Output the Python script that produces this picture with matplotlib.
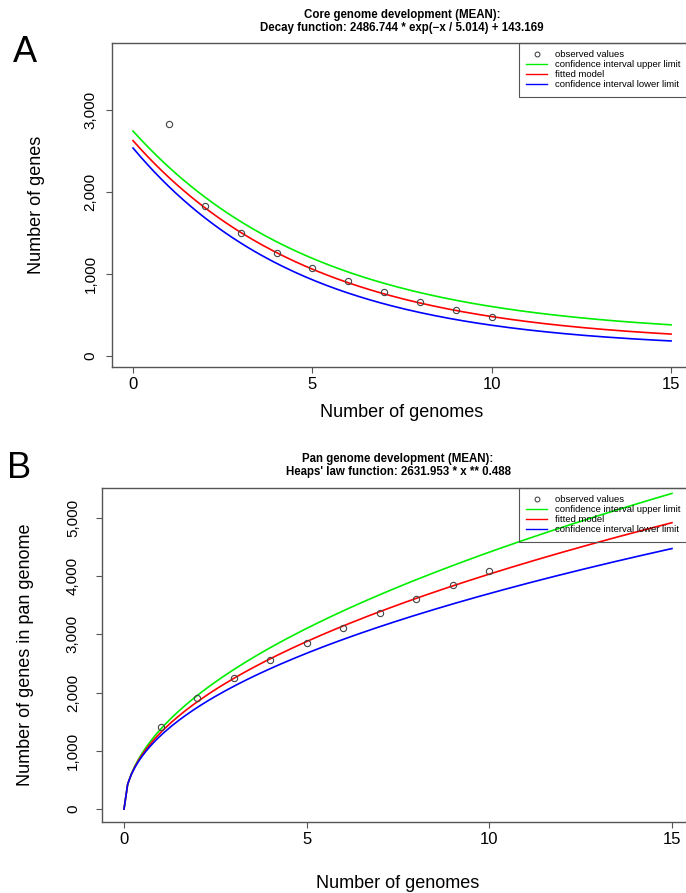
import numpy as np
import matplotlib
matplotlib.use("Agg")
import matplotlib.pyplot as plt
from matplotlib.lines import Line2D
from matplotlib.ticker import FuncFormatter

plt.rcParams['font.family'] = ['Liberation Sans', 'DejaVu Sans']

# ---------------- data ----------------
genomes = [1, 2, 3, 4, 5, 6, 7, 8, 9, 10]
core_observed = [2833, 1831, 1506, 1262, 1071, 912, 778, 665, 565, 480]
pan_observed = [1409, 1913, 2251, 2555, 2847, 3110, 3368, 3614, 3855, 4089]

# core decay model parameters (a * exp(-x / b) + c): fitted, upper, lower
core_fit = [2486.744, 5.014, 143.169]
core_upper = [2502.0, 5.15, 245.0]
core_lower = [2457.0, 4.70, 83.0]

# pan Heaps' law parameters (k * x ** g): fitted, upper, lower (as drawn)
pan_fit = [1312.0, 0.488]
pan_upper = [1370.0, 0.508]
pan_lower = [1260.0, 0.468]

x_model = np.linspace(0, 15, 151)

core_title = ["Core genome development (MEAN):",
              "Decay function: 2486.744 * exp(\u2212x / 5.014) + 143.169"]
pan_title = ["Pan genome development (MEAN):",
             "Heaps' law function: 2631.953 * x ** 0.488"]
legend_labels = ["observed values", "confidence interval upper limit",
                 "fitted model", "confidence interval lower limit"]

W, H = 686, 893
fig = plt.figure(figsize=(W / 100, H / 100), dpi=100)

def decay(p, x):
    return p[0] * np.exp(-x / p[1]) + p[2]

def heaps(p, x):
    return p[0] * x ** p[1]

GRAY = '#555555'

def style_axes(ax, ylim, yticks, ypad):
    ax.set_xlim(-0.6, 15.6)
    ax.set_ylim(*ylim)
    ax.set_xticks([0, 5, 10, 15])
    ax.set_yticks(yticks)
    ax.yaxis.set_major_formatter(FuncFormatter(lambda v, p: f"{int(v):,}"))
    for s in ax.spines.values():
        s.set_color(GRAY)
        s.set_linewidth(1.0)
    ax.tick_params(axis='x', direction='out', length=4, color=GRAY,
                   labelsize=12, pad=3)
    ax.tick_params(axis='y', direction='out', length=4, color=GRAY,
                   labelsize=11, pad=ypad, labelrotation=90)
    for lab in ax.get_yticklabels():
        lab.set_va('center')

def add_legend(top_px):
    handles = [
        Line2D([], [], marker='o', ls='none', mfc='none', mec='#333333',
               ms=3.5, mew=0.7),
        Line2D([], [], color='#00ee00', lw=1.0),
        Line2D([], [], color='#ff0000', lw=1.0),
        Line2D([], [], color='#0000ff', lw=1.0),
    ]
    leg = fig.legend(handles, legend_labels, loc='upper right',
                     bbox_to_anchor=(688 / W, 1 - top_px / H),
                     bbox_transform=fig.transFigure,
                     borderaxespad=0, fontsize=6.8,
                     frameon=True, fancybox=False, framealpha=1,
                     facecolor='none', edgecolor=GRAY,
                     handlelength=2.2, handletextpad=0.9,
                     labelspacing=0.12, borderpad=0.75)
    leg.get_frame().set_linewidth(0.8)
    leg.get_frame().set_facecolor('none')

# ---------------- panel A ----------------
axA = fig.add_axes([111.5 / W, 1 - 367 / H, (692.6 - 111.5) / W, (367 - 43) / H])
axA.plot(x_model, decay(core_upper, x_model), color='#00ee00', lw=1.2)
axA.plot(x_model, decay(core_fit, x_model), color='#ff0000', lw=1.2)
axA.plot(x_model, decay(core_lower, x_model), color='#0000ff', lw=1.2)
axA.plot(genomes, core_observed, 'o', mfc='none', mec='#444444', ms=4.5, mew=0.8)
style_axes(axA, (-134, 3822), [0, 1000, 2000, 3000], 6)
add_legend(43)
axA.set_xlabel("Number of genomes", fontsize=13, labelpad=9)
axA.set_ylabel("Number of genes", fontsize=13, labelpad=28)
cxA = (111.5 + 692.6) / 2 / W
fig.text(cxA, 1 - 15 / H, core_title[0], ha='center', va='center',
         fontsize=8.3, fontweight='bold')
fig.text(cxA, 1 - 27.5 / H, core_title[1], ha='center', va='center',
         fontsize=8.3, fontweight='bold')
fig.text(13 / W, 1 - 52 / H, "A", fontsize=26, ha='left', va='center')

# ---------------- panel B ----------------
axB = fig.add_axes([102.1 / W, 1 - 822 / H, (693.9 - 102.1) / W, (822 - 488) / H])
axB.plot(x_model, heaps(pan_upper, x_model), color='#00ee00', lw=1.2)
axB.plot(x_model, heaps(pan_fit, x_model), color='#ff0000', lw=1.2)
axB.plot(x_model, heaps(pan_lower, x_model), color='#0000ff', lw=1.2)
axB.plot(genomes, pan_observed, 'o', mfc='none', mec='#444444', ms=4.5, mew=0.8)
style_axes(axB, (-223, 5515), [0, 1000, 2000, 3000, 4000, 5000], 12)
add_legend(488)
axB.set_xlabel("Number of genomes", fontsize=13, labelpad=20)
axB.set_ylabel("Number of genes in pan genome", fontsize=13, labelpad=23)
cxB = (102.1 + 693.9) / 2 / W
fig.text(cxB, 1 - 459.5 / H, pan_title[0], ha='center', va='center',
         fontsize=8.3, fontweight='bold')
fig.text(cxB, 1 - 472 / H, pan_title[1], ha='center', va='center',
         fontsize=8.3, fontweight='bold')
fig.text(7 / W, 1 - 468 / H, "B", fontsize=26, ha='left', va='center')

fig.savefig("out.png", dpi=100)
